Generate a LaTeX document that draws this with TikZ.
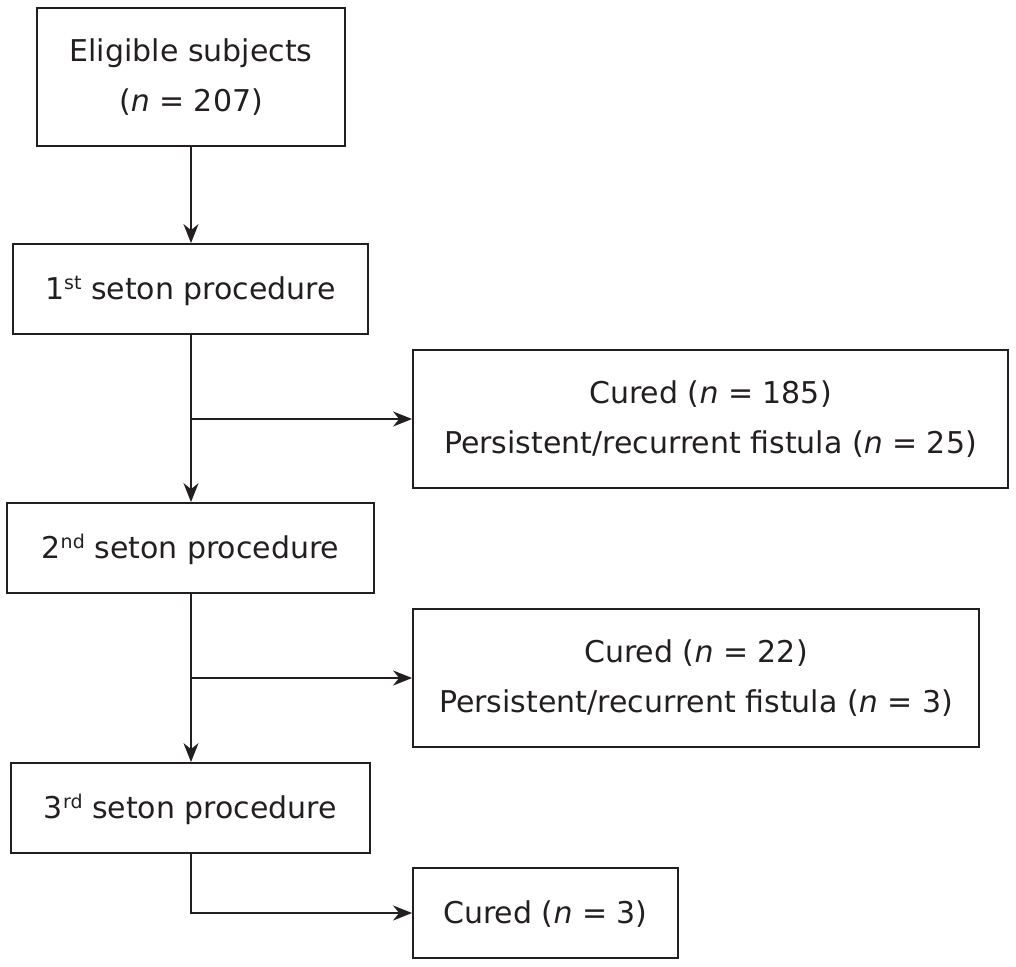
\documentclass[tikz,border=0pt]{standalone}
\usepackage{fontspec}
\setmainfont{DejaVu Sans}
\usetikzlibrary{arrows.meta}
\definecolor{ink}{HTML}{231F20}
\newcommand{\ordsup}[1]{\raisebox{10pt}{\fontsize{19}{19}\selectfont #1}}
\newcommand{\nn}{\textit{n}}
\begin{document}
\begin{tikzpicture}[x=1pt,y=-1pt,
  box/.style={draw=ink,line width=1.8pt,rectangle,inner sep=0pt,align=center,text=ink,font=\fontsize{30}{50}\selectfont},
  onebox/.style={box,text height=28pt,text depth=7pt},
  conn/.style={draw=ink,line width=1.8pt,-{Stealth[length=19pt,width=15pt,inset=6pt]}}]
\useasboundingbox (0,0) rectangle (1016,966);
\node[box,minimum width=308pt,minimum height=138pt] (elig) at (191,77) {Eligible subjects\\(\nn{} = 207)};
\node[onebox,minimum width=355pt,minimum height=90pt] (p1) at (190.5,289) {1\ordsup{st} seton procedure};
\node[box,minimum width=595pt,minimum height=138pt] (c1) at (710.5,419) {Cured (\nn{} = 185)\\Persistent/recurrent fistula (\nn{} = 25)};
\node[onebox,minimum width=367pt,minimum height=90pt] (p2) at (190.5,548) {2\ordsup{nd} seton procedure};
\node[box,minimum width=566pt,minimum height=138pt] (c2) at (696,678) {Cured (\nn{} = 22)\\Persistent/recurrent fistula (\nn{} = 3)};
\node[onebox,minimum width=359pt,minimum height=90pt] (p3) at (190.5,808) {3\ordsup{rd} seton procedure};
\node[onebox,minimum width=265pt,minimum height=90pt] (c3) at (545.5,913) {Cured (\nn{} = 3)};
\coordinate (b1) at (191,419);
\coordinate (b2) at (191,678);
\coordinate (b3) at (191,913);
\draw[conn] (elig.south -| 191,0) -- (p1.north -| 191,0);
\draw[conn] (p1.south -| 191,0) -- (p2.north -| 191,0);
\draw[conn] (b1) -- (c1.west);
\draw[conn] (p2.south -| 191,0) -- (p3.north -| 191,0);
\draw[conn] (b2) -- (c2.west);
\draw[conn] (p3.south -| 191,0) -- (b3) -- (c3.west);
\end{tikzpicture}
\end{document}
